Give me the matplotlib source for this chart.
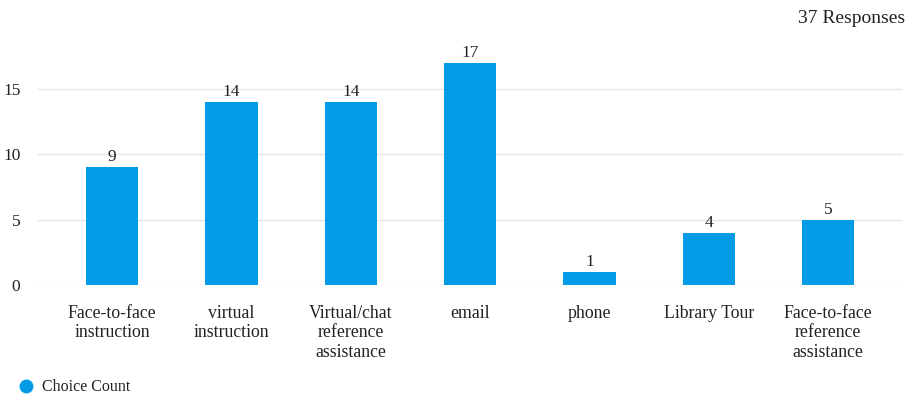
import matplotlib
matplotlib.use('Agg')
import matplotlib.pyplot as plt
from matplotlib.lines import Line2D

categories = ['Face-to-face\ninstruction', 'virtual\ninstruction',
              'Virtual/chat\nreference\nassistance', 'email', 'phone',
              'Library Tour', 'Face-to-face\nreference\nassistance']
counts = [9, 14, 14, 17, 1, 4, 5]
yticks = [0, 5, 10, 15]
total_responses = 37

bar_color = '#039be5'
text_color = '#222222'

plt.rcParams['font.family'] = ['Liberation Serif', 'DejaVu Serif']

fig = plt.figure(figsize=(9.12, 3.96), dpi=100)
ax = fig.add_axes([0.0406, 0.280, 0.950, 0.611])

x = range(len(categories))
bars = ax.bar(x, counts, width=0.44, color=bar_color, zorder=3)
for b, v in zip(bars, counts):
    ax.text(b.get_x() + b.get_width() / 2, v + 0.15, str(v), ha='center', va='bottom',
            fontsize=12.5, color=text_color)

ax.set_xlim(-0.63, len(categories) - 0.37)
ax.set_ylim(0, 18.5)
ax.set_yticks(yticks)
ax.set_xticks(list(x))
ax.set_xticklabels(categories, fontsize=12.8, color=text_color, linespacing=1.22)
ax.tick_params(axis='y', labelsize=12.5, labelcolor=text_color, length=0, pad=12)
ax.tick_params(axis='x', length=0, pad=14)
ax.grid(axis='y', color='#e6e6e6', linewidth=1, zorder=0)
for s in ax.spines.values():
    s.set_visible(False)

fig.text(0.993, 0.975, '%d Responses' % total_responses, ha='right', va='top',
         fontsize=14, color=text_color)

handle = Line2D([], [], marker='o', linestyle='none', markersize=9, color=bar_color)
fig.legend([handle], ['Choice Count'], loc='lower left', bbox_to_anchor=(0.002, -0.035),
           frameon=False, fontsize=11.5, handlelength=1.2, handletextpad=0.4,
           labelcolor=text_color)

fig.savefig('out.png', dpi=100)
